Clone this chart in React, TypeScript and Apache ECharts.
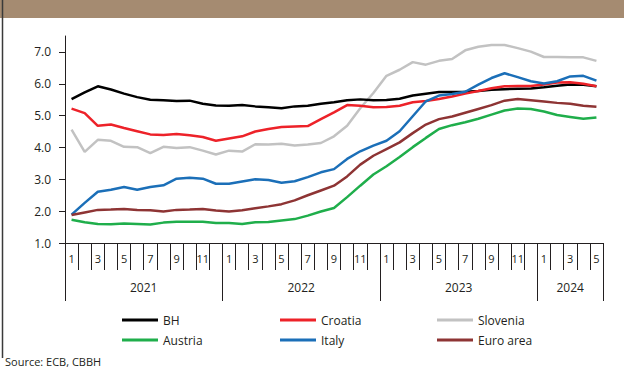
import React, { useEffect, useRef } from "react";
import * as echarts from "echarts";

const monthLabels = [
  "1","2","3","4","5","6","7","8","9","10","11","12",
  "1","2","3","4","5","6","7","8","9","10","11","12",
  "1","2","3","4","5","6","7","8","9","10","11","12",
  "1","2","3","4","5",
];
const years = ["2021", "2022", "2023", "2024"];
const yearStarts = [0, 12, 24, 36, 41];
const yearCenters = [6, 18, 30, 38.5];
const yTicks = [1, 2, 3, 4, 5, 6, 7];

const bh = [5.52,5.73,5.92,5.82,5.69,5.58,5.50,5.48,5.46,5.47,5.37,5.32,5.31,5.33,5.29,5.26,5.23,5.29,5.31,5.37,5.42,5.48,5.51,5.48,5.49,5.53,5.63,5.69,5.74,5.74,5.75,5.77,5.81,5.83,5.84,5.85,5.89,5.94,5.98,5.97,5.92];
const croatia = [5.22,5.08,4.68,4.72,4.61,4.51,4.41,4.39,4.42,4.38,4.33,4.21,4.28,4.35,4.50,4.58,4.64,4.66,4.67,4.89,5.10,5.33,5.31,5.26,5.27,5.31,5.42,5.46,5.52,5.60,5.69,5.77,5.86,5.92,5.93,5.93,5.98,6.04,6.05,6.00,5.92];
const slovenia = [4.56,3.86,4.24,4.21,4.02,4.01,3.82,4.02,3.98,4.01,3.90,3.78,3.90,3.87,4.10,4.09,4.12,4.06,4.09,4.14,4.35,4.68,5.23,5.71,6.25,6.44,6.68,6.60,6.72,6.78,7.05,7.16,7.22,7.22,7.12,7.01,6.84,6.84,6.83,6.83,6.72];
const austria = [1.73,1.65,1.60,1.59,1.61,1.60,1.58,1.64,1.67,1.67,1.67,1.63,1.63,1.60,1.65,1.66,1.71,1.75,1.86,1.99,2.10,2.44,2.80,3.15,3.41,3.70,4.01,4.30,4.58,4.70,4.79,4.90,5.03,5.16,5.22,5.21,5.13,5.02,4.96,4.90,4.94];
const italy = [1.89,2.26,2.61,2.67,2.76,2.67,2.76,2.81,3.02,3.05,3.02,2.86,2.86,2.93,3.00,2.98,2.89,2.94,3.07,3.22,3.32,3.64,3.88,4.06,4.21,4.51,4.98,5.45,5.63,5.68,5.75,5.97,6.18,6.33,6.21,6.08,6.01,6.08,6.23,6.25,6.10];
const euroArea = [1.88,1.96,2.04,2.05,2.07,2.04,2.03,1.99,2.04,2.05,2.07,2.02,1.99,2.03,2.09,2.15,2.22,2.34,2.50,2.65,2.80,3.09,3.46,3.74,3.95,4.16,4.45,4.72,4.89,4.97,5.09,5.21,5.33,5.47,5.52,5.48,5.44,5.40,5.37,5.31,5.28];

const seriesDefs = [
  { name: "BH", data: bh, color: "#000000" },
  { name: "Croatia", data: croatia, color: "#ED2229" },
  { name: "Slovenia", data: slovenia, color: "#C2C2C2" },
  { name: "Austria", data: austria, color: "#1FAE4B" },
  { name: "Italy", data: italy, color: "#1B6FB8" },
  { name: "Euro area", data: euroArea, color: "#8E3434" },
];

const FONT = "'Open Sans', 'Noto Sans', sans-serif";
const TXT = "#231F20";

export default function App() {
  const ref = useRef<HTMLDivElement>(null);
  useEffect(() => {
    if (!ref.current) return;
    const chart = echarts.init(ref.current, null, { renderer: "svg" });
    const legendBase = {
      orient: "vertical",
      icon: "rect",
      itemWidth: 36,
      itemHeight: 3,
      itemGap: 8,
      top: 309,
      selectedMode: false,
      textStyle: { fontFamily: FONT, fontSize: 12, color: TXT },
    };
    chart.setOption({
      animation: false,
      textStyle: { fontFamily: FONT },
      grid: { left: 65, right: 21, top: 36, bottom: 125, containLabel: false },
      legend: [
        { ...legendBase, left: 117, data: ["BH", "Austria"] },
        { ...legendBase, left: 275, data: ["Croatia", "Italy"] },
        { ...legendBase, left: 432, data: ["Slovenia", "Euro area"] },
      ],
      xAxis: [
        {
          type: "category",
          position: "bottom",
          data: monthLabels,
          boundaryGap: true,
          axisLine: { show: true, lineStyle: { color: TXT, width: 1 } },
          axisTick: { show: true, interval: 0, length: 27, lineStyle: { color: TXT, width: 1 } },
          axisLabel: { interval: 1, margin: 10, fontSize: 11, color: TXT, fontFamily: FONT },
          splitLine: { show: false },
        },
        {
          type: "value",
          position: "bottom",
          min: 0,
          max: 41,
          axisLine: { show: false },
          axisTick: { show: true, customValues: yearStarts, length: 58, lineStyle: { color: TXT, width: 1 } },
          axisLabel: {
            customValues: yearCenters,
            margin: 38,
            fontSize: 12,
            color: TXT,
            fontFamily: FONT,
            formatter: (v: number) => {
              const i = yearCenters.indexOf(v);
              return i >= 0 ? years[i] : "";
            },
          },
          splitLine: { show: false },
        },
      ],
      yAxis: {
        type: "value",
        min: 1,
        max: 7.5,
        axisLine: { show: true, lineStyle: { color: TXT, width: 1 } },
        axisTick: { show: true, customValues: yTicks, length: 6, lineStyle: { color: TXT } },
        axisLabel: {
          customValues: yTicks,
          margin: 14,
          fontSize: 12,
          color: TXT,
          fontFamily: FONT,
          formatter: (v: number) => v.toFixed(1),
        },
        splitLine: { show: false },
      },
      series: seriesDefs.map((s) => ({
        name: s.name,
        type: "line",
        xAxisIndex: 0,
        data: s.data,
        symbol: "none",
        color: s.color,
        lineStyle: { color: s.color, width: 2.5 },
        z: s.name === "Slovenia" ? 1 : 2,
      })),
      graphic: [
        { type: "rect", left: 0, top: 0, shape: { x: 0, y: 0, width: 624, height: 18 }, style: { fill: "#A58B71" }, silent: true },
        { type: "line", shape: { x1: 2.5, y1: 0, x2: 2.5, y2: 358 }, style: { stroke: "#3A3A3A", lineWidth: 1.5 }, silent: true },
        {
          type: "text",
          left: 5,
          top: 356,
          style: { text: "Source: ECB, CBBH", fontSize: 11, fill: TXT, fontFamily: FONT },
          silent: true,
        },
      ],
    });
    return () => chart.dispose();
  }, []);
  return (
    <div
      ref={ref}
      style={{ position: "fixed", left: 0, top: 0, width: 624, height: 368, background: "#fff" }}
    />
  );
}
